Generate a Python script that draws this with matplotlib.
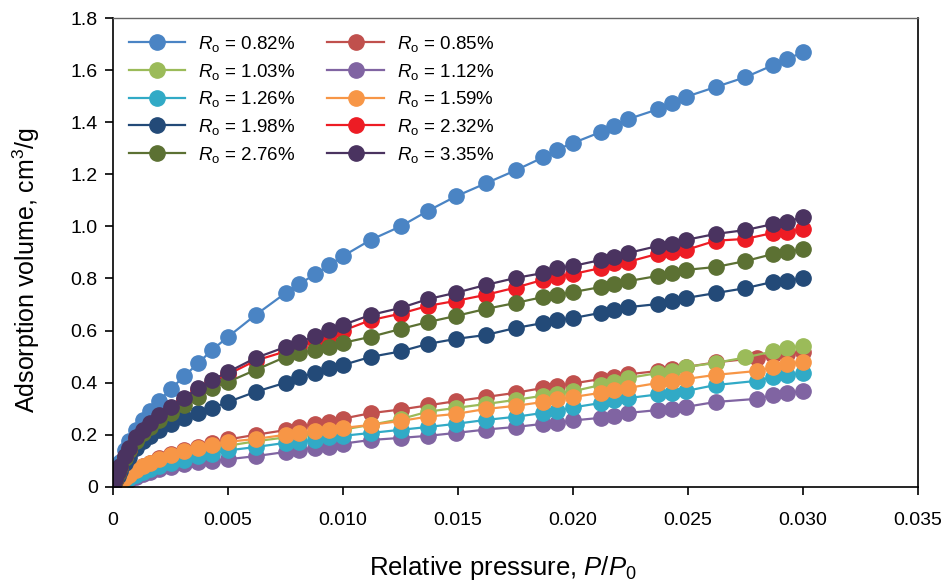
import matplotlib
matplotlib.use('Agg')
import matplotlib.pyplot as plt
from matplotlib.ticker import FuncFormatter, MultipleLocator

plt.rcParams['font.family'] = ['Liberation Sans', 'DejaVu Sans']
plt.rcParams['mathtext.fontset'] = 'custom'
plt.rcParams['mathtext.rm'] = 'Liberation Sans'
plt.rcParams['mathtext.it'] = 'Liberation Sans:italic'

# relative pressure P/P0 (the low-uptake samples have one point at 0.028 instead of 0.0275)
x_high = [0, 0.0001, 0.0002, 0.0003, 0.0005, 0.0007, 0.001, 0.0013, 0.0016, 0.002,
          0.0025, 0.0031, 0.0037, 0.0043, 0.005, 0.0062, 0.0075, 0.0081, 0.0088, 0.0094,
          0.01, 0.0112, 0.0125, 0.0137, 0.0149, 0.0162, 0.0175, 0.0187, 0.0193, 0.02,
          0.0212, 0.0218, 0.0224, 0.0237, 0.0243, 0.0249, 0.0262, 0.0275, 0.0287, 0.0293, 0.03]
x_low = [0, 0.0001, 0.0002, 0.0003, 0.0005, 0.0007, 0.001, 0.0013, 0.0016, 0.002,
         0.0025, 0.0031, 0.0037, 0.0043, 0.005, 0.0062, 0.0075, 0.0081, 0.0088, 0.0094,
         0.01, 0.0112, 0.0125, 0.0137, 0.0149, 0.0162, 0.0175, 0.0187, 0.0193, 0.02,
         0.0212, 0.0218, 0.0224, 0.0237, 0.0243, 0.0249, 0.0262, 0.028, 0.0287, 0.0293, 0.03]

# adsorption volume, cm3/g
ro_082 = [0, 0.04, 0.07, 0.095, 0.14, 0.175, 0.22, 0.255, 0.29, 0.33,
          0.375, 0.425, 0.475, 0.525, 0.576, 0.66, 0.744, 0.779, 0.817, 0.852,
          0.886, 0.948, 1.0, 1.06, 1.115, 1.165, 1.215, 1.265, 1.295, 1.32,
          1.362, 1.385, 1.412, 1.45, 1.474, 1.497, 1.535, 1.573, 1.619, 1.642, 1.669]
ro_085 = [0, 0.006, 0.013, 0.02, 0.034, 0.047, 0.064, 0.079, 0.093, 0.11,
          0.125, 0.14, 0.155, 0.168, 0.182, 0.2, 0.218, 0.23, 0.242, 0.25,
          0.262, 0.283, 0.297, 0.313, 0.329, 0.345, 0.361, 0.38, 0.388, 0.397,
          0.414, 0.422, 0.432, 0.445, 0.452, 0.46, 0.478, 0.495, 0.505, 0.511, 0.518]
ro_103 = [0, 0.005, 0.011, 0.017, 0.029, 0.04, 0.055, 0.067, 0.079, 0.093,
          0.107, 0.12, 0.133, 0.145, 0.158, 0.175, 0.19, 0.2, 0.207, 0.213,
          0.22, 0.238, 0.26, 0.289, 0.303, 0.318, 0.334, 0.35, 0.358, 0.367,
          0.391, 0.403, 0.418, 0.437, 0.445, 0.46, 0.476, 0.497, 0.52, 0.532, 0.542]
ro_112 = [0, 0.003, 0.007, 0.011, 0.019, 0.027, 0.038, 0.048, 0.057, 0.067,
          0.078, 0.087, 0.094, 0.1, 0.106, 0.118, 0.134, 0.142, 0.15, 0.155,
          0.166, 0.18, 0.188, 0.196, 0.207, 0.22, 0.23, 0.242, 0.246, 0.255,
          0.265, 0.272, 0.284, 0.295, 0.3, 0.307, 0.326, 0.338, 0.353, 0.361, 0.368]
ro_126 = [0, 0.004, 0.009, 0.014, 0.024, 0.034, 0.047, 0.058, 0.068, 0.08,
          0.093, 0.105, 0.117, 0.128, 0.14, 0.153, 0.169, 0.173, 0.18, 0.19,
          0.196, 0.207, 0.219, 0.23, 0.242, 0.257, 0.269, 0.284, 0.292, 0.305,
          0.322, 0.334, 0.341, 0.355, 0.361, 0.368, 0.391, 0.407, 0.422, 0.43, 0.437]
ro_159 = [0, 0.006, 0.013, 0.02, 0.034, 0.047, 0.064, 0.079, 0.092, 0.108,
          0.122, 0.136, 0.15, 0.161, 0.173, 0.184, 0.2, 0.207, 0.215, 0.219,
          0.226, 0.238, 0.253, 0.27, 0.28, 0.299, 0.311, 0.326, 0.337, 0.345,
          0.361, 0.37, 0.38, 0.399, 0.405, 0.414, 0.43, 0.445, 0.46, 0.472, 0.48]
ro_198 = [0, 0.022, 0.042, 0.06, 0.09, 0.115, 0.15, 0.175, 0.195, 0.22,
          0.243, 0.265, 0.284, 0.303, 0.326, 0.365, 0.4, 0.422, 0.437, 0.457,
          0.468, 0.499, 0.52, 0.549, 0.568, 0.583, 0.61, 0.629, 0.641, 0.648,
          0.668, 0.679, 0.69, 0.702, 0.714, 0.725, 0.744, 0.763, 0.787, 0.79, 0.802]
ro_232 = [0, 0.028, 0.054, 0.076, 0.114, 0.143, 0.182, 0.211, 0.238, 0.268,
          0.3, 0.335, 0.37, 0.4, 0.432, 0.485, 0.52, 0.54, 0.56, 0.58,
          0.6, 0.64, 0.665, 0.695, 0.714, 0.737, 0.765, 0.795, 0.806, 0.817,
          0.84, 0.858, 0.864, 0.895, 0.902, 0.909, 0.945, 0.952, 0.975, 0.978, 0.99]
ro_276 = [0, 0.028, 0.053, 0.075, 0.112, 0.14, 0.178, 0.205, 0.228, 0.255,
          0.285, 0.315, 0.345, 0.38, 0.403, 0.449, 0.499, 0.514, 0.526, 0.537,
          0.553, 0.576, 0.606, 0.633, 0.656, 0.683, 0.706, 0.729, 0.737, 0.748,
          0.767, 0.779, 0.79, 0.81, 0.821, 0.833, 0.844, 0.867, 0.894, 0.902, 0.913]
ro_335 = [0, 0.03, 0.057, 0.08, 0.12, 0.15, 0.19, 0.22, 0.245, 0.275,
          0.307, 0.342, 0.38, 0.41, 0.441, 0.495, 0.537, 0.556, 0.579, 0.602,
          0.622, 0.66, 0.687, 0.721, 0.745, 0.775, 0.802, 0.821, 0.84, 0.848,
          0.871, 0.883, 0.898, 0.925, 0.932, 0.948, 0.971, 0.986, 1.009, 1.017, 1.036]

series = [
    ('0.82', x_high, ro_082, '#4A84C4'),
    ('0.85', x_low, ro_085, '#C0504D'),
    ('1.03', x_high, ro_103, '#9BBB59'),
    ('1.12', x_low, ro_112, '#8064A2'),
    ('1.26', x_low, ro_126, '#31AAC6'),
    ('1.59', x_low, ro_159, '#F79646'),
    ('1.98', x_high, ro_198, '#234A78'),
    ('2.32', x_high, ro_232, '#ED1C24'),
    ('2.76', x_high, ro_276, '#5C7133'),
    ('3.35', x_high, ro_335, '#4A3360'),
]

fig, ax = plt.subplots(figsize=(9.42, 5.81), dpi=100)
fig.subplots_adjust(left=0.12, right=0.9745, top=0.969, bottom=0.162)

handles = {}
for ro, xs, ys, col in series:
    h, = ax.plot(xs, ys, '-o', color=col, lw=1.6, ms=11, mec=col,
                 label=r'$R_\mathrm{o}$' + ' = ' + ro + '%')
    handles[ro] = h

order = ['0.82', '1.03', '1.26', '1.98', '2.76', '0.85', '1.12', '1.59', '2.32', '3.35']
ax.legend([handles[k] for k in order], [handles[k].get_label() for k in order],
          ncol=2, loc='upper left', frameon=False, fontsize=13.5,
          handlelength=3.0, handletextpad=0.7, columnspacing=1.7,
          labelspacing=0.41, borderaxespad=0.45)

ax.set_xlim(0, 0.035)
ax.set_ylim(0, 1.8)
ax.xaxis.set_major_locator(MultipleLocator(0.005))
ax.yaxis.set_major_locator(MultipleLocator(0.2))
ax.xaxis.set_major_formatter(FuncFormatter(lambda v, p: '0' if abs(v) < 1e-9 else '%.3f' % v))
ax.yaxis.set_major_formatter(FuncFormatter(lambda v, p: '0' if abs(v) < 1e-9 else '%.1f' % v))
ax.tick_params(axis='both', direction='out', length=6, width=1.2, labelsize=14)
ax.tick_params(axis='x', pad=12)
ax.tick_params(axis='y', pad=5)

for s in ax.spines.values():
    s.set_linewidth(1.2)
ax.spines['top'].set_color('#666666')
ax.spines['top'].set_linewidth(1.0)

ax.set_xlabel(r'Relative pressure, $P/P_\mathrm{0}$', fontsize=18.5)
ax.set_ylabel(r'Adsorption volume, cm$^\mathrm{3}$/g', fontsize=18)
ax.xaxis.set_label_coords(0.484, -0.143)
ax.yaxis.set_label_coords(-0.088, 0.463)

plt.savefig('out.png', dpi=100)
